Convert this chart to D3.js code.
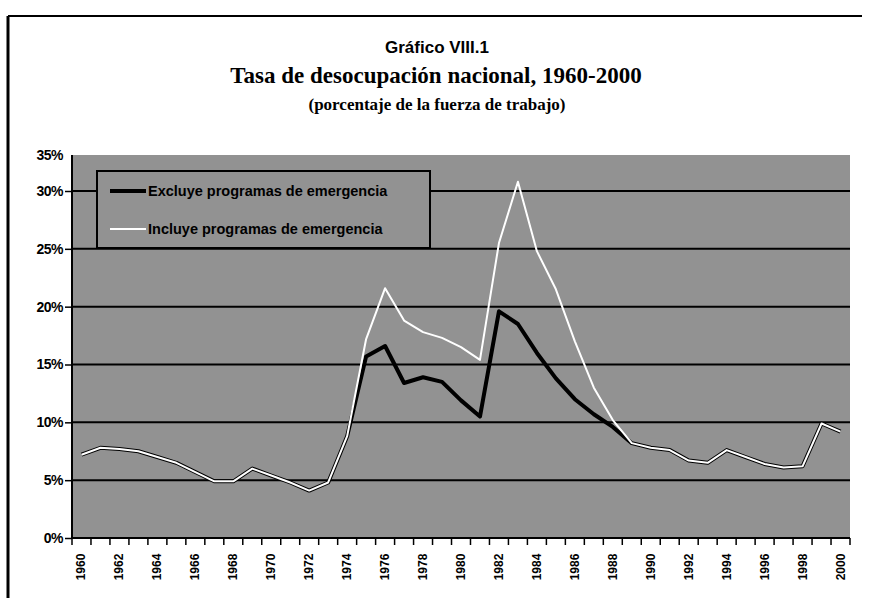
<!DOCTYPE html>
<html>
<head>
<meta charset="utf-8">
<script src="https://cdn.jsdelivr.net/npm/d3@7"></script>
<style>
  body { margin: 0; background: #fff; }
  svg { display: block; }
</style>
</head>
<body>
<svg id="chart" width="873" height="598"></svg>
<script>
// data (percent of labour force)
const years = [1960, 1961, 1962, 1963, 1964, 1965, 1966, 1967, 1968, 1969,
  1970, 1971, 1972, 1973, 1974, 1975, 1976, 1977, 1978, 1979,
  1980, 1981, 1982, 1983, 1984, 1985, 1986, 1987, 1988, 1989,
  1990, 1991, 1992, 1993, 1994, 1995, 1996, 1997, 1998, 1999, 2000];

const excluye = [7.2, 7.8, 7.7, 7.5, 7.0, 6.5, 5.7, 4.9, 4.9, 6.0,
  5.4, 4.8, 4.1, 4.8, 8.8, 15.7, 16.6, 13.4, 13.9, 13.5,
  11.9, 10.5, 19.6, 18.5, 16.0, 13.8, 12.0, 10.7, 9.6, 8.2,
  7.8, 7.6, 6.7, 6.5, 7.6, 7.0, 6.4, 6.1, 6.2, 9.9, 9.2];

const incluye = [7.2, 7.8, 7.7, 7.5, 7.0, 6.5, 5.7, 4.9, 4.9, 6.0,
  5.4, 4.8, 4.1, 4.8, 8.8, 17.2, 21.6, 18.8, 17.8, 17.3,
  16.5, 15.4, 25.5, 30.8, 24.8, 21.5, 17.0, 13.0, 10.2, 8.2,
  7.8, 7.6, 6.7, 6.5, 7.6, 7.0, 6.4, 6.1, 6.2, 9.9, 9.2];

const yTicks = [0, 5, 10, 15, 20, 25, 30];
const xLabels = years.filter(d => d % 2 === 0);
const seriesNames = ["Excluye programas de emergencia", "Incluye programas de emergencia"];

const svg = d3.select("#chart");

const plot = { left: 72, right: 850, top: 155, bottom: 538 };

const x = d3.scaleBand()
  .domain(years)
  .range([plot.left, plot.right]);

// gridlines sit 58px apart; the scan clips the plot a bit above 30%
const y = d3.scaleLinear()
  .domain([0, 30])
  .range([plot.bottom, 191]);

const axisFont = "'Liberation Sans Narrow', 'Liberation Sans', Arial, sans-serif";

// outer frame of the scanned page
svg.append("line").attr("x1", 8).attr("x2", 8).attr("y1", 16).attr("y2", 598)
  .attr("stroke", "#000").attr("stroke-width", 3);
svg.append("line").attr("x1", 8).attr("x2", 862).attr("y1", 16).attr("y2", 16)
  .attr("stroke", "#000").attr("stroke-width", 2);

// titles
svg.append("text")
  .attr("x", 437).attr("y", 53)
  .attr("text-anchor", "middle")
  .style("font", "bold 17px 'Liberation Sans', Arial, sans-serif")
  .text("Gráfico VIII.1");
svg.append("text")
  .attr("x", 436).attr("y", 83)
  .attr("text-anchor", "middle")
  .style("font", "bold 23px 'Liberation Serif', serif")
  .text("Tasa de desocupación nacional, 1960-2000");
svg.append("text")
  .attr("x", 437).attr("y", 110)
  .attr("text-anchor", "middle")
  .style("font", "bold 17px 'Liberation Serif', serif")
  .text("(porcentaje de la fuerza de trabajo)");

// plot background (dithered grey in the scan)
svg.append("rect")
  .attr("x", plot.left).attr("y", plot.top)
  .attr("width", plot.right - plot.left).attr("height", plot.bottom - plot.top)
  .attr("fill", "#929292");

// horizontal gridlines
svg.append("g")
  .selectAll("line")
  .data(yTicks.filter(d => d > 0))
  .join("line")
  .attr("x1", plot.left).attr("x2", plot.right)
  .attr("y1", d => y(d)).attr("y2", d => y(d))
  .attr("stroke", "#000")
  .attr("stroke-width", 2);

// y axis
const yAxis = svg.append("g")
  .attr("transform", `translate(${plot.left},0)`)
  .call(d3.axisLeft(y).tickValues(yTicks).tickFormat(d => d + "%").tickSize(7).tickSizeOuter(0))
  .call(g => g.select(".domain").remove());
yAxis.selectAll("line").attr("stroke", "#000").attr("stroke-width", 1.5);
yAxis.selectAll("text")
  .attr("x", -9)
  .style("font", `bold 14px ${axisFont}`)
  .style("letter-spacing", "-0.5px");

// top edge label of the clipped plot
svg.append("text")
  .attr("x", plot.left - 9).attr("y", plot.top + 5)
  .attr("text-anchor", "end")
  .style("font", `bold 14px ${axisFont}`)
  .style("letter-spacing", "-0.5px")
  .text("35%");

svg.append("line")
  .attr("x1", plot.left).attr("x2", plot.left).attr("y1", plot.top).attr("y2", plot.bottom)
  .attr("stroke", "#000").attr("stroke-width", 2);
svg.append("line")
  .attr("x1", plot.left).attr("x2", plot.right).attr("y1", plot.bottom).attr("y2", plot.bottom)
  .attr("stroke", "#000").attr("stroke-width", 2);

// x ticks at category boundaries
svg.append("g")
  .selectAll("line")
  .data(years.concat([null]))
  .join("line")
  .attr("x1", (d, i) => plot.left + i * x.step())
  .attr("x2", (d, i) => plot.left + i * x.step())
  .attr("y1", plot.bottom).attr("y2", plot.bottom + 7)
  .attr("stroke", "#000").attr("stroke-width", 1.5);

// rotated year labels
svg.append("g")
  .selectAll("text")
  .data(xLabels)
  .join("text")
  .attr("transform", d => `translate(${x(d) + x.bandwidth() / 2 + 4},567) rotate(-90)`)
  .attr("text-anchor", "middle")
  .style("font", `bold 12px ${axisFont}`)
  .text(d => d);

// lines
const line = vals => d3.line()
  .x((d, i) => x(years[i]) + x.bandwidth() / 2)
  .y(d => y(d))(vals);

svg.append("path")
  .attr("d", line(excluye))
  .attr("fill", "none")
  .attr("stroke", "#000")
  .attr("stroke-width", 4)
  .attr("stroke-linejoin", "round");

svg.append("path")
  .attr("d", line(incluye))
  .attr("fill", "none")
  .attr("stroke", "#fff")
  .attr("stroke-width", 2)
  .attr("stroke-linejoin", "round");

// legend
const legend = svg.append("g");
legend.append("rect")
  .attr("x", 97).attr("y", 171)
  .attr("width", 333).attr("height", 77)
  .attr("fill", "#929292")
  .attr("stroke", "#000")
  .attr("stroke-width", 2);

const legendRows = [
  { name: seriesNames[0], color: "#000", width: 4, y: 191 },
  { name: seriesNames[1], color: "#fff", width: 2, y: 229 }
];

legendRows.forEach(r => {
  legend.append("line")
    .attr("x1", 110).attr("x2", 146)
    .attr("y1", r.y).attr("y2", r.y)
    .attr("stroke", r.color)
    .attr("stroke-width", r.width);
  legend.append("text")
    .attr("x", 148).attr("y", r.y + 5)
    .style("font", "bold 14.5px 'Liberation Sans', Arial, sans-serif")
    .text(r.name);
});
</script>
</body>
</html>
